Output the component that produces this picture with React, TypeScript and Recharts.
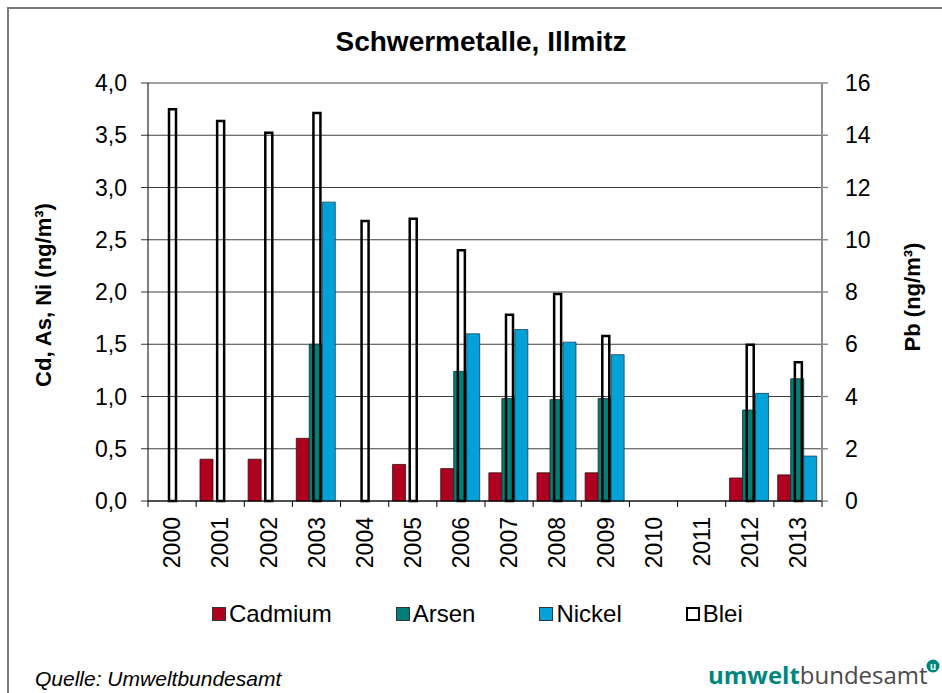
import React from 'react';
import { ComposedChart, Bar, XAxis, YAxis, CartesianGrid, Legend } from 'recharts';

const years = ['2000', '2001', '2002', '2003', '2004', '2005', '2006', '2007', '2008', '2009', '2010', '2011', '2012', '2013'];
const cadmium = [null, 0.40, 0.40, 0.60, null, 0.35, 0.31, 0.27, 0.27, 0.27, null, null, 0.22, 0.25];
const arsen = [null, null, null, 1.50, null, null, 1.24, 0.98, 0.97, 0.98, null, null, 0.87, 1.17];
const nickel = [null, null, null, 2.86, null, null, 1.60, 1.64, 1.52, 1.40, null, null, 1.03, 0.43];
const blei = [15.0, 14.55, 14.1, 14.85, 10.72, 10.8, 9.6, 7.13, 7.92, 6.32, null, null, 5.98, 5.31];

const leftTicks = [0, 0.5, 1, 1.5, 2, 2.5, 3, 3.5, 4];
const rightTicks = [0, 2, 4, 6, 8, 10, 12, 14, 16];

const seriesOrder = ['cadmium', 'arsen', 'nickel', 'blei'];
const seriesNames = { cadmium: 'Cadmium', arsen: 'Arsen', nickel: 'Nickel', blei: 'Blei' };

const data = years.map((year, i) => ({
  year,
  cadmium: cadmium[i],
  arsen: arsen[i],
  nickel: nickel[i],
  blei: blei[i],
}));

const FONT = '"Liberation Sans", Arial, Helvetica, sans-serif';
const COLORS = { cadmium: '#B0001F', arsen: '#007E78', nickel: '#00A2D8' };
const PLOT_LEFT = 148;
const PLOT_RIGHT = 822;
const BAND = (PLOT_RIGHT - PLOT_LEFT) / years.length;

const XTick = (props: any) => {
  const { x, y, payload, index } = props;
  const half = BAND / 2;
  const ty = y + 16;
  return (
    <g>
      <line x1={x - half} x2={x - half} y1={y} y2={y + 6} stroke="#000" strokeWidth={1} />
      {index === years.length - 1 && (
        <line x1={x + half} x2={x + half} y1={y} y2={y + 6} stroke="#000" strokeWidth={1} />
      )}
      <text
        x={x}
        y={ty}
        transform={`rotate(-90 ${x} ${ty})`}
        textAnchor="end"
        dy="0.36em"
        fontSize={23}
        fontFamily={FONT}
        fill="#000"
      >
        {payload.value}
      </text>
    </g>
  );
};

const renderLegend = (props: any) => {
  const payload = [...(props.payload || [])].sort(
    (a: any, b: any) => seriesOrder.indexOf(a.dataKey) - seriesOrder.indexOf(b.dataKey)
  );
  return (
    <div style={{ display: 'flex', alignItems: 'center', fontFamily: FONT, fontSize: 24, color: '#000' }}>
      {payload.map((entry: any) => {
        const key = entry.dataKey as string;
        const isBlei = key === 'blei';
        return (
          <div key={key} style={{ display: 'flex', alignItems: 'center', marginRight: 64 }}>
            <span
              style={{
                display: 'inline-block',
                width: isBlei ? 10 : 12,
                height: isBlei ? 10 : 12,
                background: isBlei ? '#fff' : (COLORS as any)[key],
                border: isBlei ? '2px solid #000' : '1px solid #333',
                marginRight: 3,
              }}
            />
            <span style={{ lineHeight: '28px' }}>{entry.value}</span>
          </div>
        );
      })}
    </div>
  );
};

export default function App() {
  return (
    <div style={{ position: 'absolute', left: 0, top: 0, width: 942, height: 693, overflow: 'hidden', background: '#fff' }}>
      <div
        style={{
          position: 'absolute',
          left: 7,
          top: 7,
          width: 1100,
          height: 1100,
          border: '2px solid #7a7a7a',
          boxSizing: 'border-box',
        }}
      />
      <ComposedChart
        width={942}
        height={693}
        data={data}
        margin={{ top: 83, right: 0, left: 0, bottom: 112 }}
        barCategoryGap="8%"
        barGap={0}
      >
        <CartesianGrid yAxisId="left" vertical={false} stroke="#404040" strokeWidth={1} />
        <XAxis
          dataKey="year"
          xAxisId="main"
          height={80}
          interval={0}
          tickLine={false}
          tickSize={0}
          tickMargin={0}
          axisLine={{ stroke: '#000', strokeWidth: 1 }}
          tick={<XTick />}
        />
        <XAxis dataKey="year" xAxisId="pb" hide height={0} />
        <YAxis
          yAxisId="left"
          orientation="left"
          width={148}
          domain={[0, 4]}
          ticks={leftTicks}
          interval={0}
          tickSize={7}
          tickMargin={14}
          axisLine={{ stroke: '#000', strokeWidth: 1 }}
          tickLine={{ stroke: '#333' }}
          tick={{ fontSize: 23, fill: '#000', fontFamily: FONT }}
          tickFormatter={(v: number) => v.toFixed(1).replace('.', ',')}
        />
        <YAxis
          yAxisId="right"
          orientation="right"
          width={120}
          domain={[0, 16]}
          ticks={rightTicks}
          interval={0}
          tickSize={6}
          tickMargin={17}
          axisLine={{ stroke: '#8c8c8c', strokeWidth: 2 }}
          tickLine={{ stroke: '#8c8c8c', strokeWidth: 1.5 }}
          tick={{ fontSize: 23, fill: '#000', fontFamily: FONT, textAnchor: 'start' }}
        />
        <Bar dataKey="cadmium" name={seriesNames.cadmium} xAxisId="main" yAxisId="left" fill={COLORS.cadmium} stroke="#3a0a10" strokeWidth={0.8} isAnimationActive={false} />
        <Bar dataKey="arsen" name={seriesNames.arsen} xAxisId="main" yAxisId="left" fill={COLORS.arsen} stroke="#0b2e2c" strokeWidth={0.8} isAnimationActive={false} />
        <Bar dataKey="nickel" name={seriesNames.nickel} xAxisId="main" yAxisId="left" fill={COLORS.nickel} stroke="#10405a" strokeWidth={0.8} isAnimationActive={false} />
        <Bar dataKey="blei" name={seriesNames.blei} xAxisId="pb" yAxisId="right" fill="none" stroke="#000" strokeWidth={2.5} barSize={7} isAnimationActive={false} />
        <Legend
          layout="horizontal"
          verticalAlign="middle"
          align="center"
          content={renderLegend}
          wrapperStyle={{ top: 600, left: 212, width: 700, height: 28 }}
        />
      </ComposedChart>
      <div
        style={{
          position: 'absolute',
          left: 0,
          width: 962,
          top: 24,
          textAlign: 'center',
          fontFamily: FONT,
          fontWeight: 'bold',
          fontSize: 28,
          lineHeight: '36px',
          color: '#000',
        }}
      >
        Schwermetalle, Illmitz
      </div>
      <div
        style={{
          position: 'absolute',
          left: 44 - 150,
          top: 295 - 14,
          width: 300,
          height: 28,
          lineHeight: '28px',
          textAlign: 'center',
          transform: 'rotate(-90deg)',
          fontFamily: FONT,
          fontWeight: 'bold',
          fontSize: 22,
          color: '#000',
          whiteSpace: 'nowrap',
        }}
      >
        Cd, As, Ni (ng/m³)
      </div>
      <div
        style={{
          position: 'absolute',
          left: 913 - 100,
          top: 297 - 14,
          width: 200,
          height: 28,
          lineHeight: '28px',
          textAlign: 'center',
          transform: 'rotate(-90deg)',
          fontFamily: FONT,
          fontWeight: 'bold',
          fontSize: 22,
          color: '#000',
          whiteSpace: 'nowrap',
        }}
      >
        Pb (ng/m³)
      </div>
      <div
        style={{
          position: 'absolute',
          left: 35,
          top: 666,
          fontFamily: FONT,
          fontStyle: 'italic',
          fontSize: 21,
          lineHeight: '26px',
          color: '#000',
          whiteSpace: 'nowrap',
        }}
      >
        Quelle: Umweltbundesamt
      </div>
      <div
        style={{
          position: 'absolute',
          left: 708,
          top: 660,
          fontFamily: '"Open Sans", "Noto Sans", sans-serif',
          fontSize: 24,
          lineHeight: '30px',
          whiteSpace: 'nowrap',
          letterSpacing: 0,
        }}
      >
        <span style={{ color: '#00857D', fontWeight: 'bold' }}>umwelt</span>
        <span style={{ color: '#4a4a4a' }}>bundesamt</span>
      </div>
      <svg style={{ position: 'absolute', left: 925, top: 658 }} width={16} height={16}>
        <circle cx={8} cy={8} r={6.5} fill="#00857D" />
        <text x={8} y={11.5} textAnchor="middle" fontSize={10} fontWeight="bold" fill="#fff" fontFamily={FONT}>
          u
        </text>
      </svg>
    </div>
  );
}
